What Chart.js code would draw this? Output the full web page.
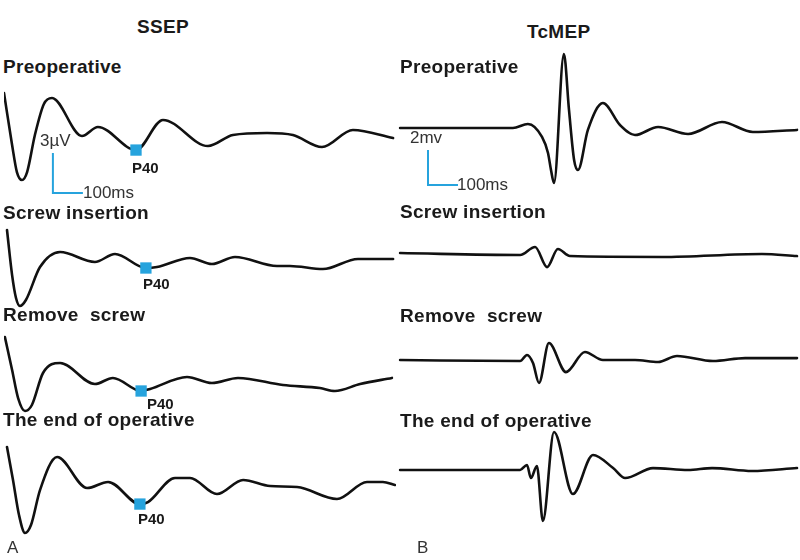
<!DOCTYPE html>
<html>
<head>
<meta charset="utf-8">
<script src="https://cdn.jsdelivr.net/npm/chart.js@4"></script>
<style>
  body { margin: 0; background: #fff; }
  #fig { position: relative; width: 800px; height: 560px; overflow: hidden; font-family: "Liberation Sans", Arial, sans-serif; color: #1a1a1a; }
  #fig canvas { position: absolute; }
  .lbl { position: absolute; white-space: pre; line-height: 1; }
  .title { font-weight: bold; font-size: 19px; letter-spacing: 0.3px; }
  .p40 { font-weight: bold; font-size: 15px; }
  .unit { font-size: 17px; color: #333; }
</style>
</head>
<body>
<div id="fig"></div>
<script>
// Trace names (rows)
const rowNames = ['Preoperative', 'Screw insertion', 'Remove  screw', 'The end of operative'];

// SSEP traces: time (ms) and amplitude (µV)
const ssepPreT = [0, 27, 43, 60, 77, 103, 133, 160, 260, 313, 440, 530, 680, 763, 877, 963, 1060, 1163, 1297];
const ssepPreV = [3.15, -0.75, -2.78, -3.38, -2.78, 0, 2.33, 2.78, -0.08, 0.6, -1.13, 1.13, -0.83, 0, 0.15, 0, -0.9, 0.38, -0.23];

const ssepScrewT = [10, 27, 40, 53, 73, 120, 187, 303, 370, 473, 510, 620, 693, 770, 910, 953, 1063, 1180, 1297];
const ssepScrewV = [2.4, -0.98, -2.7, -3.3, -2.85, -0.38, 0.75, 0, 0.6, -0.45, -0.38, 0.3, -0.15, 0.38, -0.3, -0.3, -0.53, 0.23, 0.23];

const ssepRemoveT = [3, 27, 47, 70, 93, 130, 187, 303, 363, 457, 487, 610, 693, 780, 930, 1053, 1103, 1187, 1293];
const ssepRemoveV = [3.45, 0.98, -1.13, -2.1, -1.65, 0.75, 1.5, -0.08, 0.38, -0.6, -0.45, 0.45, 0, 0.38, -0.15, -0.38, -0.6, -0.08, 0.38];

const ssepEndT = [10, 30, 50, 70, 90, 120, 177, 277, 347, 453, 480, 570, 620, 710, 797, 887, 977, 1110, 1210, 1263, 1303];
const ssepEndV = [2.85, 0.38, -2.25, -3.6, -3.0, -0.38, 2.1, -0.23, 0.23, -1.43, -1.28, 0.53, 0.53, -0.68, 0.38, -0.08, -0.15, -1.05, 0.23, 0.23, 0];

// P40 latency (ms) and amplitude (µV) per row
const p40T = [440, 473, 457, 453];
const p40V = [-1.13, -0.45, -0.6, -1.43];

// TcMEP traces: time (ms) and amplitude (mV)
const mepPreT = [7, 383, 433, 480, 500, 510, 520, 553, 570, 587, 600, 633, 683, 740, 790, 867, 967, 1080, 1183, 1330];
const mepPreV = [0, 0, 0.23, -0.51, -1.43, -2.4, -3.14, 4.23, 1.03, -1.83, -2.4, -0.11, 1.43, 0.17, -0.4, 0.06, -0.34, 0.34, -0.23, -0.11];

const mepScrewT = [7, 407, 457, 497, 533, 573, 880, 1213, 1330];
const mepScrewV = [0.11, 0, 0.46, -0.69, 0.34, -0.06, -0.11, 0.06, -0.06];

const mepRemoveT = [7, 407, 430, 450, 470, 503, 560, 623, 683, 790, 867, 930, 1050, 1157, 1330];
const mepRemoveV = [0, -0.06, 0.29, -0.17, -1.31, 0.97, -0.69, 0.46, 0, 0, -0.11, 0.23, -0.06, 0.11, 0.11];

const mepEndT = [7, 407, 430, 443, 463, 483, 520, 583, 650, 717, 757, 850, 967, 1047, 1180, 1330];
const mepEndV = [0, 0, 0.29, -0.46, 0.23, -2.91, 2.17, -1.37, 0.86, 0.11, -0.46, 0.11, 0, 0.11, -0.06, 0.11];

// Calibration bars: [start time ms, start amplitude, height, length ms]
const ssepBar = [163, -4.35, 3, 100];
const mepBar = [100, -3.26, 2, 100];

const BLUE = '#26a3dd';
const INK = '#111111';
const fig = document.getElementById('fig');

function pts(ts, vs) {
    return ts.map((t, i) => ({ x: t, y: vs[i] }));
}

function barPts(b) {
    return [{ x: b[0], y: b[1] + b[2] }, { x: b[0], y: b[1] }, { x: b[0] + b[3], y: b[1] }];
}

// Each trace gets its own canvas; px per ms and px per unit keep the same scale per column
function makeTrace(opts) {
    const cv = document.createElement('canvas');
    cv.width = opts.width;
    cv.height = opts.height;
    cv.style.left = opts.left + 'px';
    cv.style.top = (opts.baseline - opts.above) + 'px';
    fig.appendChild(cv);

    const datasets = [];
    if (opts.marker) {
        datasets.push({
            data: [opts.marker],
            showLine: false,
            pointStyle: 'rect',
            pointRadius: 8,
            pointBackgroundColor: BLUE,
            pointBorderWidth: 0,
            order: 0
        });
    }
    if (opts.bar) {
        datasets.push({
            data: opts.bar,
            borderColor: BLUE,
            borderWidth: 2,
            pointRadius: 0,
            tension: 0,
            clip: false,
            order: 2
        });
    }
    datasets.push({
        data: opts.data,
        borderColor: INK,
        borderWidth: 2.6,
        pointRadius: 0,
        cubicInterpolationMode: 'monotone',
        clip: false,
        borderJoinStyle: 'round',
        borderCapStyle: 'round',
        order: 1
    });

    new Chart(cv, {
        type: 'line',
        data: { datasets: datasets },
        options: {
            responsive: false,
            animation: false,
            events: [],
            layout: { padding: 0, autoPadding: false },
            plugins: { legend: { display: false }, tooltip: { enabled: false } },
            scales: {
                x: { type: 'linear', display: false, min: 0, max: opts.width / opts.pxPerMs },
                y: {
                    type: 'linear', display: false,
                    min: -(opts.height - opts.above) / opts.pxPerUnit,
                    max: opts.above / opts.pxPerUnit
                }
            }
        }
    });
}

const ssepData = [pts(ssepPreT, ssepPreV), pts(ssepScrewT, ssepScrewV), pts(ssepRemoveT, ssepRemoveV), pts(ssepEndT, ssepEndV)];
const mepData = [pts(mepPreT, mepPreV), pts(mepScrewT, mepScrewV), pts(mepRemoveT, mepRemoveV), pts(mepEndT, mepEndV)];
const ssepBase = [135, 262, 383, 485];
const mepBase = [128, 255, 360, 470];

ssepData.forEach((d, i) => {
    makeTrace({
        left: 4, width: 392, height: 120, above: 55, baseline: ssepBase[i],
        pxPerMs: 0.3, pxPerUnit: 13.33,
        data: d,
        marker: { x: p40T[i], y: p40V[i] },
        bar: i === 0 ? barPts(ssepBar) : null
    });
});

mepData.forEach((d, i) => {
    makeTrace({
        left: 398, width: 402, height: 160, above: 80, baseline: mepBase[i],
        pxPerMs: 0.3, pxPerUnit: 17.5,
        data: d,
        bar: i === 0 ? barPts(mepBar) : null
    });
});

// Text labels (placed by baseline)
function label(text, x, baseline, cls, size) {
    const el = document.createElement('div');
    el.className = 'lbl ' + cls;
    el.textContent = text;
    el.style.left = x + 'px';
    el.style.top = (baseline - 0.8465 * size) + 'px';
    fig.appendChild(el);
}

label('SSEP', 137, 33, 'title', 19);
label('TcMEP', 527, 38, 'title', 19);

const leftTitleBase = [73, 219, 321, 426];
const rightTitleBase = [73, 218, 322, 427];
rowNames.forEach((name, i) => {
    label(name, 3, leftTitleBase[i], 'title', 19);
    label(name, 400, rightTitleBase[i], 'title', 19);
});

const p40X = [132, 143, 147, 138];
const p40Base = [173, 289, 409, 524];
p40X.forEach((x, i) => label('P40', x, p40Base[i], 'p40', 15));

label('3µV', 40, 146, 'unit', 17);
label('100ms', 83, 198, 'unit', 17);
label('2mv', 410, 143, 'unit', 17);
label('100ms', 457, 190, 'unit', 17);
label('A', 7, 553, 'unit', 17);
label('B', 417, 553, 'unit', 17);
</script>
</body>
</html>
